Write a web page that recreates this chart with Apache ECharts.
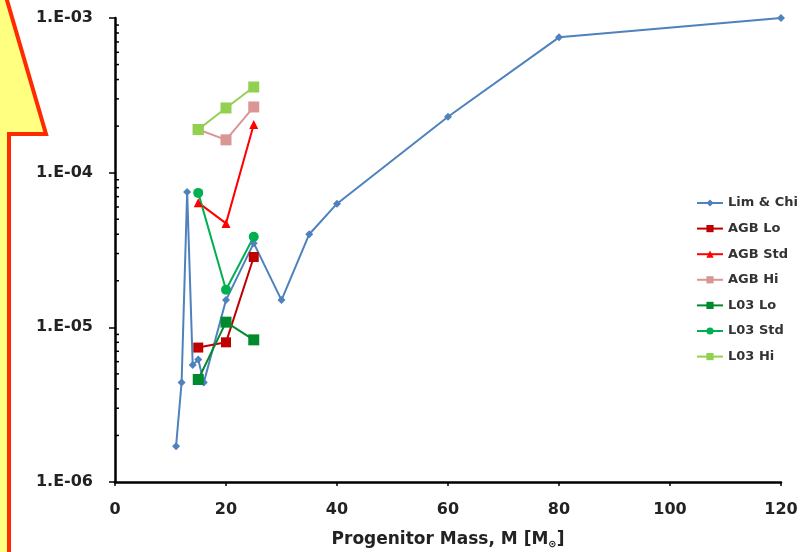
<!DOCTYPE html>
<html>
<head>
<meta charset="utf-8">
<script src="https://cdn.jsdelivr.net/npm/echarts@6/dist/echarts.min.js"></script>
<style>html,body{margin:0;padding:0;background:#fff}#c{width:803px;height:552px}</style>
</head>
<body>
<div id="c"></div>
<script>
// ---- data ----
const limChiMass = [11, 12, 13, 14, 15, 16, 20, 25, 30, 35, 40, 60, 80, 120];
const limChiVal  = [1.7e-6, 4.4e-6, 7.5e-5, 5.7e-6, 6.2e-6, 4.4e-6, 1.5e-5, 3.5e-5, 1.5e-5, 4.0e-5, 6.3e-5, 2.3e-4, 7.5e-4, 1.0e-3];
const modelMass = [15, 20, 25];
const agbLo  = [7.4e-6, 8.0e-6, 2.85e-5];
const agbStd = [6.4e-5, 4.7e-5, 2.05e-4];
const agbHi  = [1.9e-4, 1.63e-4, 2.66e-4];
const l03Lo  = [4.6e-6, 1.08e-5, 8.3e-6];
const l03Std = [7.4e-5, 1.75e-5, 3.85e-5];
const l03Hi  = [1.9e-4, 2.62e-4, 3.58e-4];
const seriesNames = ['Lim & Chi', 'AGB Lo', 'AGB Std', 'AGB Hi', 'L03 Lo', 'L03 Std', 'L03 Hi'];
const xTicks = [0, 20, 40, 60, 80, 100, 120];
const xName = 'Progenitor Mass, M [M';

const FONT = 'DejaVu Sans';
const chart = echarts.init(document.getElementById('c'));

function pair(xs, ys) { return xs.map((x, i) => [x, ys[i]]); }
function mk(name, data, color, symbol, size) {
  return {
    name: name, type: 'line', data: data, symbol: symbol, symbolSize: size,
    lineStyle: { color: color, width: 2 }, itemStyle: { color: color },
    emphasis: { disabled: true }, animation: false, z: 3
  };
}

chart.setOption({
  animation: false,
  grid: { left: 115, right: 22, top: 18, bottom: 70, containLabel: false, outerBoundsMode: 'none' },
  legend: {
    orient: 'vertical', left: 691, top: 191,
    itemWidth: 26, itemHeight: 9, itemGap: 11.6,
    textStyle: { fontFamily: FONT, fontWeight: 'bold', fontSize: 13, color: '#333', lineHeight: 14 },
    data: seriesNames
  },
  xAxis: {
    type: 'value', min: 0, max: 120, interval: 20,
    axisLine: { lineStyle: { color: '#000', width: 2.5 } },
    axisTick: { show: true, length: 4, lineStyle: { color: '#000', width: 1.5 } },
    splitLine: { show: false },
    axisLabel: { fontFamily: FONT, fontWeight: 'bold', fontSize: 16, color: '#222', margin: 20,
      formatter: v => xTicks.indexOf(v) >= 0 ? String(v) : '' },
    name: xName + '{sub|\u2299}]',
    nameLocation: 'middle', nameGap: 49,
    nameTextStyle: { fontFamily: FONT, fontWeight: 'bold', fontSize: 17, color: '#222',
      rich: { sub: { fontFamily: FONT, fontSize: 10, color: '#222', verticalAlign: 'bottom', padding: [8, 0, 0, 0] } } }
  },
  yAxis: {
    type: 'log', logBase: 10, min: 1e-6, max: 1e-3,
    axisLine: { show: true, lineStyle: { color: '#000', width: 2.5 } },
    axisTick: { show: true, length: 6, lineStyle: { color: '#000', width: 1.5 } },
    splitLine: { show: false },
    axisLabel: { fontFamily: FONT, fontWeight: 'bold', fontSize: 16, color: '#222', margin: 22,
      formatter: function (v) {
        const e = Math.round(Math.log10(v));
        return '1.E' + (e < 0 ? '-' : '+') + String(Math.abs(e)).padStart(2, '0');
      } }
  },
  series: [
    mk(seriesNames[0], pair(limChiMass, limChiVal), '#4F81BD', 'diamond', 8),
    mk(seriesNames[1], pair(modelMass, agbLo), '#C00000', 'rect', 10),
    mk(seriesNames[2], pair(modelMass, agbStd), '#FF0000', 'triangle', 9),
    mk(seriesNames[3], pair(modelMass, agbHi), '#DA9694', 'rect', 11),
    mk(seriesNames[4], pair(modelMass, l03Lo), '#008A2E', 'rect', 11),
    mk(seriesNames[5], pair(modelMass, l03Std), '#00B050', 'circle', 10),
    mk(seriesNames[6], pair(modelMass, l03Hi), '#92D050', 'rect', 11)
  ]
});

// minor ticks on the log axis + callout overlay
const g = [];
const x0 = chart.convertToPixel({ xAxisIndex: 0 }, 0);
for (let n = -6; n <= -4; n++) {
  for (let k = 2; k <= 9; k++) {
    const y = chart.convertToPixel({ yAxisIndex: 0 }, k * Math.pow(10, n));
    g.push({ type: 'line', shape: { x1: x0, y1: y, x2: x0 + 4, y2: y }, style: { stroke: '#000', lineWidth: 1.5 }, z: 5, silent: true });
  }
}
g.push({
  type: 'polygon', z: 100, silent: true,
  shape: { points: [[-20, -10], [4, -10], [46, 134], [9, 134], [9, 570], [-20, 570]] },
  style: { fill: '#FFFF80', stroke: '#FF2A00', lineWidth: 4, lineJoin: 'miter' }
});
chart.setOption({ graphic: g });
</script>
</body>
</html>
